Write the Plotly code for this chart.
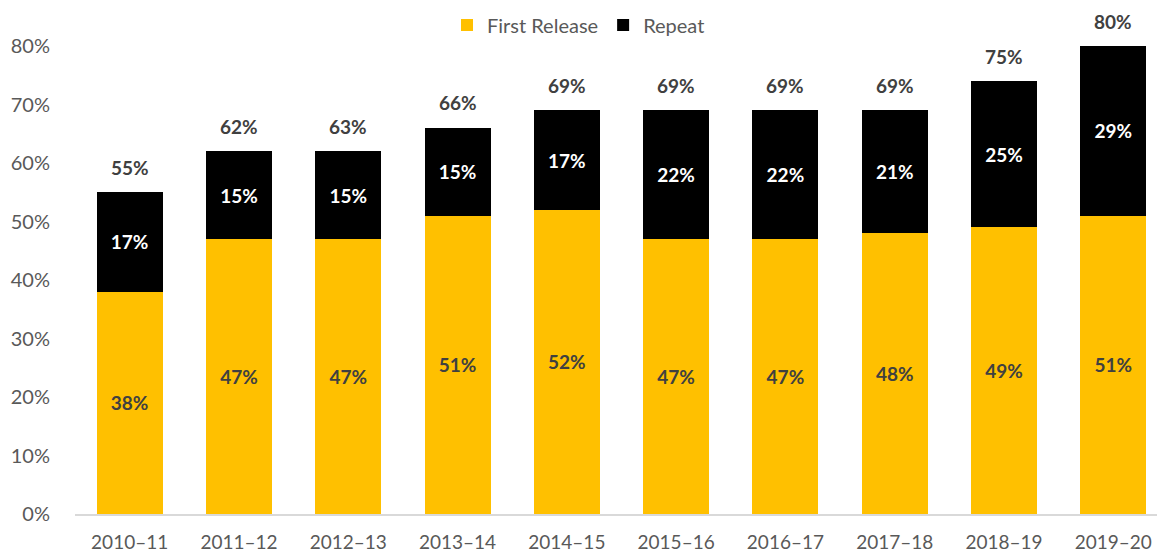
import plotly.graph_objects as go

categories = ["2010–11", "2011–12", "2012–13", "2013–14", "2014–15",
              "2015–16", "2016–17", "2017–18", "2018–19", "2019–20"]
first_release = [38, 47, 47, 51, 52, 47, 47, 48, 49, 51]
repeat = [17, 15, 15, 15, 17, 22, 22, 21, 25, 29]
total_labels = ["55%", "62%", "63%", "66%", "69%", "69%", "69%", "69%", "75%", "80%"]
y_ticks = [0, 10, 20, 30, 40, 50, 60, 70, 80]
y_tick_labels = ["0%", "10%", "20%", "30%", "40%", "50%", "60%", "70%", "80%"]

YELLOW = "#FFC000"
BLACK = "#000000"
TXT = "#404040"
TICK = "#595959"
FONT = "Lato, Inter, sans-serif"

fig = go.Figure()
fig.add_trace(go.Bar(
    x=categories, y=first_release, name="First Release",
    marker=dict(color=YELLOW, line=dict(width=0)),
    text=[f"{v}%" for v in first_release], textposition="inside",
    insidetextanchor="middle", constraintext="none",
    textfont=dict(color=TXT, size=19, family=FONT, weight="bold"),
    width=0.604,
))
fig.add_trace(go.Bar(
    x=categories, y=repeat, name="Repeat",
    marker=dict(color=BLACK, line=dict(width=0)),
    text=[f"{v}%" for v in repeat], textposition="inside",
    insidetextanchor="middle", constraintext="none",
    textfont=dict(color="white", size=19, family=FONT, weight="bold"),
    width=0.604,
))

tops = [a + b for a, b in zip(first_release, repeat)]
for c, t, lab in zip(categories, tops, total_labels):
    fig.add_annotation(x=c, y=t, text=lab, showarrow=False,
                       yanchor="middle", yshift=25,
                       font=dict(color=TXT, size=19, family=FONT, weight="bold"))

fig.update_layout(
    width=1157, height=555,
    barmode="stack",
    plot_bgcolor="white", paper_bgcolor="white",
    margin=dict(l=75, r=0, t=46, b=41, autoexpand=False),
    font=dict(family=FONT, color=TICK, size=19),
    legend=dict(orientation="h", x=0.5, xanchor="center", xref="container",
                y=1 - 25 / 555, yanchor="middle", yref="container",
                font=dict(size=20, color=TICK), itemwidth=30,
                traceorder="normal"),
    xaxis=dict(range=[-0.5, 9.40], showgrid=False, showline=True,
               linecolor="#d9d9d9", linewidth=2, ticks="outside", ticklen=10,
               tickcolor="rgba(0,0,0,0)", tickfont=dict(size=19, color=TICK)),
    yaxis=dict(range=[0, 80], tickvals=y_ticks, ticktext=y_tick_labels,
               showgrid=False, zeroline=False, showline=False,
               ticks="outside", ticklen=20, tickcolor="rgba(0,0,0,0)",
               tickfont=dict(size=20, color=TICK)),
)

fig.write_html("out.html")
